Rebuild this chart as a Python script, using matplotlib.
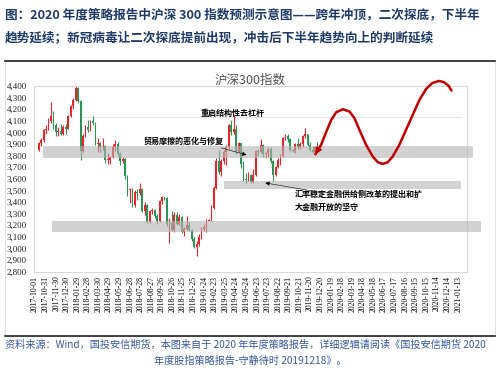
import matplotlib
matplotlib.use('Agg')
import matplotlib.pyplot as plt
import matplotlib.dates as mdates
from matplotlib.patches import Rectangle
import pandas as pd

cjk = ['Noto Sans CJK SC', 'DejaVu Sans']
plt.rcParams['font.family'] = cjk

# weekly candles (CSI 300), first week starts 2017-10-09
first_week = '2017-10-09'
wk_open = [3850, 3910, 3930, 4020, 4030, 4100, 4140, 4060, 4000, 4010, 3990, 4050,
           4030, 4140, 4230, 4280, 4380, 4270, 3840, 3970, 4050, 4020, 4100, 4080,
           3900, 3910, 3870, 3880, 3760, 3760, 3790, 3870, 3900, 3810, 3750, 3770,
           3620, 3500, 3510, 3370, 3490, 3480, 3510, 3320, 3370, 3230, 3320, 3330,
           3280, 3240, 3410, 3440, 3430, 3210, 3220, 3160, 3290, 3210, 3270, 3140,
           3170, 3200, 3160, 3080, 3010, 3040, 3100, 3170, 3180, 3240, 3245, 3350,
           3520, 3750, 3660, 3750, 3830, 3870, 4060, 4000, 4030, 3830, 3910, 3730,
           3600, 3590, 3630, 3570, 3630, 3840, 3830, 3890, 3810, 3820, 3860, 3750,
           3630, 3700, 3760, 3800, 3950, 3970, 3940, 3850, 3840, 3900, 3870, 3900,
           3970, 3990, 3890, 3850, 3830, 3870]
wk_close = [3910, 3930, 4020, 4030, 4100, 4140, 4060, 4000, 4010, 3990, 4050, 4030,
            4140, 4230, 4280, 4380, 4270, 3840, 3970, 4050, 4020, 4100, 4080, 3900,
            3910, 3870, 3880, 3760, 3760, 3790, 3870, 3900, 3810, 3750, 3770, 3620,
            3500, 3510, 3370, 3490, 3480, 3510, 3320, 3370, 3230, 3320, 3330, 3280,
            3240, 3410, 3440, 3430, 3210, 3220, 3160, 3290, 3210, 3270, 3140, 3170,
            3200, 3160, 3080, 3010, 3040, 3100, 3170, 3180, 3240, 3245, 3350, 3520,
            3750, 3660, 3750, 3830, 3870, 4060, 4000, 4030, 3830, 3910, 3730, 3600,
            3590, 3630, 3570, 3630, 3840, 3830, 3890, 3810, 3820, 3860, 3750, 3630,
            3700, 3760, 3800, 3950, 3970, 3940, 3850, 3840, 3900, 3870, 3900, 3970,
            3990, 3890, 3850, 3830, 3870, 3830]
wk_high = [3920, 3950, 4030, 4060, 4120, 4260, 4180, 4080, 4050, 4070, 4060, 4070,
           4150, 4240, 4300, 4403, 4390, 4280, 3990, 4060, 4110, 4110, 4140, 4090,
           3950, 3920, 3950, 3890, 3820, 3800, 3900, 3930, 3920, 3830, 3790, 3780,
           3630, 3520, 3520, 3500, 3510, 3560, 3520, 3400, 3380, 3330, 3350, 3340,
           3300, 3420, 3450, 3445, 3440, 3260, 3320, 3310, 3310, 3300, 3280, 3180,
           3280, 3230, 3170, 3100, 3060, 3120, 3180, 3210, 3250, 3250, 3370, 3540,
           3780, 3850, 3770, 3850, 3890, 4070, 4110, 4150, 4060, 3920, 3910, 3750,
           3650, 3660, 3640, 3680, 3850, 3860, 3940, 3900, 3830, 3870, 3870, 3760,
           3710, 3780, 3810, 3960, 3990, 3990, 3950, 3855, 3910, 3950, 3920, 3980,
           4040, 3990, 3920, 3880, 3880, 3920]
wk_low = [3840, 3880, 3920, 3990, 4020, 4080, 4030, 3970, 3970, 3980, 3980, 3990,
          4030, 4130, 4200, 4270, 4250, 3760, 3830, 3960, 4000, 4010, 4060, 3890,
          3830, 3830, 3850, 3740, 3730, 3730, 3780, 3840, 3800, 3720, 3740, 3600,
          3450, 3390, 3360, 3360, 3420, 3460, 3310, 3290, 3220, 3220, 3300, 3260,
          3210, 3230, 3380, 3420, 3190, 3050, 3150, 3140, 3200, 3200, 3130, 3110,
          3160, 3150, 3060, 3000, 2935, 3020, 3080, 3150, 3140, 3235, 3240, 3340,
          3510, 3640, 3620, 3730, 3720, 3860, 3980, 3990, 3810, 3820, 3690, 3580,
          3560, 3580, 3560, 3560, 3620, 3800, 3820, 3790, 3780, 3790, 3740, 3570,
          3620, 3690, 3720, 3790, 3930, 3920, 3840, 3830, 3820, 3860, 3860, 3870,
          3950, 3880, 3840, 3820, 3820, 3830]

# forecast curve (days after 2017-10-01, index level)
fc_day = [795, 811, 826, 840, 854, 873, 892, 906, 920, 939, 958, 972, 986,
          1000, 1014, 1033, 1052, 1071, 1090, 1109, 1127, 1146, 1160, 1173, 1181]
fc_val = [3811, 3891, 4006, 4107, 4173, 4199, 4179, 4121, 4021, 3891, 3791, 3742, 3728,
          3742, 3791, 3891, 4021, 4150, 4279, 4374, 4426, 4443, 4432, 4400, 4360]

tick_dates = ['2017-10-01', '2017-10-31', '2017-11-30', '2017-12-30', '2018-01-29',
              '2018-02-28', '2018-03-30', '2018-04-29', '2018-05-29', '2018-06-28',
              '2018-07-28', '2018-08-27', '2018-09-26', '2018-10-26', '2018-11-25',
              '2018-12-25', '2019-01-24', '2019-02-23', '2019-03-25', '2019-04-24',
              '2019-05-24', '2019-06-23', '2019-07-23', '2019-08-22', '2019-09-21',
              '2019-10-21', '2019-11-20', '2019-12-20', '2020-01-19', '2020-02-18',
              '2020-03-19', '2020-04-18', '2020-05-18', '2020-06-17', '2020-07-17',
              '2020-08-16', '2020-09-15', '2020-10-15', '2020-11-14', '2020-12-14',
              '2021-01-13']
y_ticks = list(range(2800, 4500, 100))

t0 = pd.Timestamp('2017-10-01')


def dnum(day):
    return mdates.date2num(t0 + pd.Timedelta(days=day))


fig = plt.figure(figsize=(5, 3.83), dpi=100)
ax = fig.add_axes([0.068, 0.291, 0.866, 0.4846])

# candles
xw = mdates.date2num(pd.date_range(first_week, periods=len(wk_close), freq='7D') + pd.Timedelta(days=2))
cols = ['#e3262b' if c >= o else '#2e9256' for o, c in zip(wk_open, wk_close)]
ax.vlines(xw, wk_low, wk_high, colors=cols, lw=0.8, zorder=2)
body = [max(abs(c - o), 6) for o, c in zip(wk_open, wk_close)]
bottom = [min(o, c) for o, c in zip(wk_open, wk_close)]
ax.bar(xw, body, bottom=bottom, width=4.8, color=cols, lw=0, zorder=2)

# forecast curve with arrow at its start
fx = [dnum(d) for d in fc_day]
ax.plot(fx, fc_val, color='#c00000', lw=1.8, clip_on=False, zorder=4, solid_capstyle='round')
ax.annotate('', xy=(fx[0], fc_val[0]), xytext=(fx[1], fc_val[1]),
            arrowprops=dict(arrowstyle='->', color='#c00000', lw=1.5,
                            mutation_scale=8, shrinkA=0, shrinkB=0),
            annotation_clip=False, zorder=4)

# grey bands
for lo, hi, d0, d1 in [(3779, 3883, 23, 1242), (3512, 3581, 536, 1208), (3141, 3236, 48, 1265)]:
    ax.add_patch(Rectangle((dnum(d0), lo), dnum(d1) - dnum(d0), hi - lo, facecolor='#b4b4b4',
                           alpha=0.6, lw=0, clip_on=False, zorder=3))

ax.axhline(4128, xmin=0.11, xmax=0.985, color='#e4e4e4', lw=0.8, zorder=1)

# annotations
ax.text(dnum(559), 4167, '重启结构性去杠杆', fontsize=5.8, fontweight='bold',
        ha='center', va='center', zorder=5)
ax.text(dnum(422), 3926, '贸易摩擦的恶化与修复', fontsize=5.8, fontweight='bold',
        ha='center', va='center', zorder=5)
ax.annotate('', xy=(dnum(600), 3805), xytext=(dnum(528), 3866),
            arrowprops=dict(arrowstyle='-|>', color='black', lw=0.5, ls=(0, (1, 1)),
                            mutation_scale=6, shrinkA=0, shrinkB=0), zorder=5)
ax.text(dnum(737), 3410, '汇率稳定金融供给侧改革的提出和扩\n大金融开放的坚守', fontsize=5.8,
        fontweight='bold', ha='left', va='center', linespacing=1.5, zorder=5)
ax.annotate('', xy=(dnum(653), 3564), xytext=(dnum(818), 3478),
            arrowprops=dict(arrowstyle='-|>', color='black', lw=0.4,
                            mutation_scale=6, shrinkA=0, shrinkB=0), zorder=5)

ax.set_xlim(dnum(-3), dnum(1225))
ax.set_ylim(2800, 4400)
ax.set_yticks(y_ticks)
ax.set_yticklabels([f'{v:,}' for v in y_ticks], family='Liberation Serif', fontsize=6.5, color='#222222')
ax.set_xticks([mdates.date2num(pd.Timestamp(d)) for d in tick_dates])
ax.set_xticklabels(tick_dates, rotation=90, family='Liberation Serif', fontsize=5.6, color='black')
ax.tick_params(length=0, pad=3)
ax.tick_params(axis='y', pad=5)
for s in ax.spines.values():
    s.set_color('#d9d9d9')
    s.set_linewidth(0.8)

# chart title
fig.text(0.5, 1 - 80 / 383, '沪深300指数', fontsize=9, color='#505050', ha='center', va='center',
         style='italic')

# header and footer
navy = '#1f3a66'
fig.text(0.01, 1 - 15 / 383, '图：2020 年度策略报告中沪深 300 指数预测示意图——跨年冲顶，二次探底，下半年',
         fontsize=9.1, fontweight='bold', color=navy, ha='left', va='center')
fig.text(0.01, 1 - 38 / 383, '趋势延续；新冠病毒让二次探底提前出现，冲击后下半年趋势向上的判断延续',
         fontsize=9.1, fontweight='bold', color=navy, ha='left', va='center')
fig.add_artist(plt.Line2D([0.01, 0.99], [1 - 61 / 383, 1 - 61 / 383], color='#222222', lw=1.2))
fig.add_artist(plt.Line2D([0.01, 0.99], [1 - 336 / 383, 1 - 336 / 383], color='#222222', lw=1.2))
fig.add_artist(Rectangle((0.01, 1 - 336 / 383), 0.98, (336 - 61) / 383, transform=fig.transFigure,
                         fill=False, edgecolor='#dddddd', lw=0.6))
fig.text(0.01, 1 - 345 / 383,
         '资料来源：Wind，国投安信期货，本图来自于 2020 年年度策略报告，详细逻辑请阅读《国投安信期货 2020',
         fontsize=7.3, color='#3a5a9a', ha='left', va='center', style='italic')
fig.text(0.5, 1 - 361 / 383, '年度股指策略报告-守静待时 20191218》。',
         fontsize=7.3, color='#3a5a9a', ha='center', va='center', style='italic')

fig.savefig('out.png', dpi=100)
